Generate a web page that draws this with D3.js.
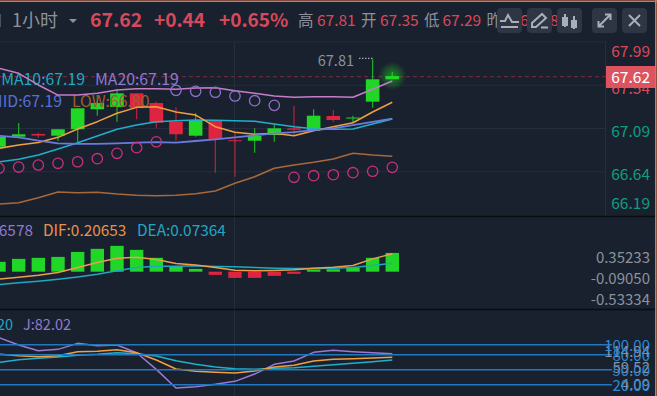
<!DOCTYPE html>
<html>
<head>
<meta charset="utf-8">
<script src="https://cdn.jsdelivr.net/npm/d3@7"></script>
<style>
  html, body { margin: 0; padding: 0; background: #1a212e; overflow: hidden; }
  svg { display: block; font-family: "Noto Sans CJK SC", "Noto Sans", sans-serif; }
</style>
</head>
<body>
<div id="chart"></div>
<script>
// candles
const opens  = [66.900,67.005,67.033,67.015,67.082,67.290,67.314,67.456,67.355,67.161,67.015,67.171,66.968,66.963,67.022,67.092,67.067,67.220,67.194,67.369,67.602];
const closes = [67.005,67.030,67.017,67.082,67.300,67.355,67.456,67.303,67.150,67.030,67.168,66.981,66.958,67.012,67.092,67.077,67.223,67.178,67.204,67.602,67.636];
const highs  = [67.033,67.147,67.046,67.082,67.300,67.438,67.498,67.456,67.369,67.310,67.248,67.171,67.043,67.092,67.137,67.324,67.290,67.282,67.223,67.810,67.681];
const lows   = [66.876,66.991,66.991,66.963,66.953,67.223,67.161,67.186,67.092,66.963,67.005,66.630,66.588,66.838,66.953,67.022,67.067,67.161,67.144,67.306,67.602];

// main indicators
const ma5 = [66.884,66.918,66.944,66.998,67.085,67.161,67.248,67.310,67.317,67.262,67.230,67.109,67.050,67.030,67.040,67.015,67.067,67.109,67.150,67.262,67.363];
const ma10 = [66.744,66.769,66.814,66.877,66.942,67.012,67.082,67.126,67.161,67.171,67.178,67.175,67.171,67.165,67.137,67.109,67.088,67.082,67.085,67.137,67.189];
const ma20 = [67.015,66.998,66.963,66.936,66.929,66.929,66.936,66.942,66.949,66.942,66.960,66.977,66.998,67.019,67.040,67.053,67.074,67.092,67.126,67.158,67.192];
const upper = [67.716,67.664,67.543,67.438,67.438,67.456,67.491,67.504,67.504,67.498,67.511,67.514,67.483,67.456,67.428,67.415,67.421,67.421,67.415,67.498,67.584];
const lower = [66.304,66.318,66.370,66.429,66.422,66.426,66.408,66.395,66.391,66.395,66.411,66.440,66.520,66.588,66.676,66.710,66.738,66.772,66.832,66.814,66.801];
const sar = [66.676,66.689,66.710,66.728,66.744,66.776,66.832,66.890,66.952,67.487,67.477,67.467,67.428,67.379,67.331,66.582,66.599,66.609,66.630,66.645,66.686];
const priceTicks = [67.99,67.54,67.09,66.64,66.19];

// macd
const macdBars = [.116,.151,.163,.174,.233,.269,.304,.257,.163,.065,.033,-.037,-.073,-.073,-.049,-.025,.025,.029,.049,.163,.221];
const dif = [-.088,-.065,-.041,-.010,.049,.108,.159,.171,.143,.096,.080,.049,.018,.010,.014,.022,.041,.053,.073,.151,.210];
const dea = [-.151,-.131,-.112,-.088,-.061,-.029,.010,.049,.065,.065,.069,.061,.057,.049,.041,.037,.037,.041,.049,.073,.100];
const macdTicks = [0.35233,-0.09050,-0.53334];

// kdj
const kLine = [81.3,78,76,78,86,86.7,90,84,69.3,51.3,46.7,44.7,43.3,47.3,55.3,58.7,67.3,70.7,72,73.3,74.7];
const dLine = [64.7,70,72.7,75.3,78.7,80.7,84,82,77.3,68,60.7,55.3,52,50.7,52.7,54,56.7,60,62.7,66,69.3];
const jLine = [114,99.3,88,90.7,102.7,98,99.3,84,50.7,13.3,16,20.7,26.7,41.3,60.7,67.3,84.7,88.7,86,84,82.02];
const kdjLevels = [100,80,50,20];
const kdjRangeTicks = [114.94,59.52,4.09];

const width = 657, height = 396;
const bg = "#1a212e", gridColor = "#252e3c";
const red = "#e0233f", green = "#20d626", labelRed = "#d9485a", labelGreen = "#0f9d82", grey = "#8b929e";

const svg = d3.select("#chart").append("svg").attr("width", width).attr("height", height);
svg.append("rect").attr("width", width).attr("height", height).attr("fill", bg);

const x = d3.scaleLinear().domain([0, 20]).range([-1, 392.3]);
const y = d3.scaleLinear().domain([66.19, 67.99]).range([215, 42]);
const macdY = d3.scaleLinear().domain([0, 0.2]).range([271.7, 254.7]);
const macdAxisY = d3.scaleLinear().domain([-0.53334, 0.35233]).range([300, 258]);
const kdjY = d3.scaleLinear().domain([20, 100]).range([384.7, 344.7]);
const kdjAxisY = d3.scaleLinear().domain([4.09, 114.94]).range([385, 352]);
const idx = d3.range(closes.length);

// grid
svg.selectAll(".grid-h").data(priceTicks.slice(0, 4)).join("line")
  .attr("x1", 0).attr("x2", 605).attr("y1", d => y(d)).attr("y2", d => y(d))
  .attr("stroke", gridColor).attr("stroke-width", 1);
svg.append("line").attr("x1", 234.5).attr("x2", 234.5).attr("y1", 42).attr("y2", height)
  .attr("stroke", gridColor);
svg.append("line").attr("x1", 605.5).attr("x2", 605.5).attr("y1", 42).attr("y2", 216)
  .attr("stroke", gridColor);

function legend(text, xPos, yPos, color, anchor, size) {
  svg.append("text").attr("x", xPos).attr("y", yPos).attr("fill", color)
    .attr("font-size", size || 15.4).attr("text-anchor", anchor || "start")
    .attr("dominant-baseline", "central").text(text);
}

// last price dashed
svg.append("line").attr("x1", 0).attr("x2", 606).attr("y1", 76.7).attr("y2", 76.7)
  .attr("stroke", "#7a2b40").attr("stroke-dasharray", "4,3");

// glow on the forming candle
const glow = svg.append("defs").append("radialGradient").attr("id", "glow");
glow.append("stop").attr("offset", "0%").attr("stop-color", "#20d626").attr("stop-opacity", 0.55);
glow.append("stop").attr("offset", "60%").attr("stop-color", "#20d626").attr("stop-opacity", 0.25);
glow.append("stop").attr("offset", "100%").attr("stop-color", "#20d626").attr("stop-opacity", 0);
svg.append("circle").attr("cx", x(20)).attr("cy", y(closes[20])).attr("r", 14).attr("fill", "url(#glow)");

// candles
const candleColor = i => closes[i] >= opens[i] ? green : red;
svg.selectAll(".wick").data(idx).join("line")
  .attr("x1", i => x(i)).attr("x2", i => x(i))
  .attr("y1", i => y(highs[i])).attr("y2", i => y(lows[i]))
  .attr("stroke", candleColor).attr("stroke-width", 1.2).attr("stroke-opacity", 0.8);
svg.selectAll(".body").data(idx).join("rect")
  .attr("x", i => x(i) - 6.8).attr("width", 13.6)
  .attr("y", i => y(Math.max(opens[i], closes[i])))
  .attr("height", i => Math.max(1, Math.abs(y(opens[i]) - y(closes[i]))))
  .attr("fill", candleColor);

// legends go over the candles, the bars show through them
legend("MA10:67.19", 85, 80, "#1fa8c4", "end", 15.8);
legend("MA20:67.19", 95, 80, "#8f7ad0", "start", 15.8);
legend("MID:67.19", 62, 102, "#5570d8", "end", 15.8);
legend("LOW:66.80", 72, 102, "#9c5f30", "start", 15.8);

// main lines
function drawLine(values, yScale, color, w) {
  svg.append("path").datum(values)
    .attr("fill", "none").attr("stroke", color).attr("stroke-width", w || 1.5)
    .attr("stroke-linejoin", "round")
    .attr("d", d3.line().x((d, i) => x(i)).y(d => yScale(d)));
}
drawLine(upper, y, "#c77cc8");
drawLine(lower, y, "#a8693a");
drawLine(ma10, y, "#1fb0cc");
drawLine(ma5, y, "#f0a040");
drawLine(ma20, y, "#6a7be0", 1.8);

// sar
svg.selectAll(".sar").data(idx).join("circle")
  .attr("cx", i => x(i)).attr("cy", i => y(sar[i])).attr("r", 5.2)
  .attr("fill", "none").attr("stroke-width", 1.3)
  .attr("stroke", i => sar[i] > closes[i] ? "#8f70d0" : "#c8317e");

// high marker
svg.append("text").attr("x", 354).attr("y", y(67.81) + 2).attr("fill", grey)
  .attr("font-size", 14.5).attr("text-anchor", "end").attr("dominant-baseline", "central").text("67.81");
svg.append("line").attr("x1", 359).attr("x2", x(19)).attr("y1", y(67.81) - 1).attr("y2", y(67.81) - 1)
  .attr("stroke", "#c8ccd4").attr("stroke-dasharray", "1.5,1.5");

// price axis
const priceOffset = { "67.99": 10, "66.19": -11 };
svg.selectAll(".price-tick").data(priceTicks).join("text")
  .attr("x", 650).attr("y", d => y(d) + (priceOffset[d] || 3))
  .attr("text-anchor", "end").attr("dominant-baseline", "central")
  .attr("font-size", 15.5).attr("fill", d => d > 67.18 ? labelRed : labelGreen)
  .text(d => d.toFixed(2));
svg.append("rect").attr("x", 606).attr("y", 66).attr("width", 49).attr("height", 22)
  .attr("fill", "#dc5460");
svg.append("text").attr("x", 650).attr("y", 78).attr("text-anchor", "end")
  .attr("dominant-baseline", "central").attr("font-size", 15.5).attr("fill", "#fff").text("67.62");

// panel separators
[216.5, 309.5].forEach(v => {
  svg.append("line").attr("x1", 0).attr("x2", 656).attr("y1", v).attr("y2", v)
    .attr("stroke", "#0a0c10").attr("stroke-width", 1.5);
});

// macd panel
legend("MACD:0.26578", 33, 231, "#8f7ad0", "end");
legend("DIF:0.20653", 43, 231, "#e8924a");
legend("DEA:0.07364", 137, 231, "#1fa8c4");
svg.selectAll(".macd-bar").data(idx).join("rect")
  .attr("x", i => x(i) - 6.7).attr("width", 13.4)
  .attr("y", i => Math.min(macdY(0), macdY(macdBars[i])))
  .attr("height", i => Math.abs(macdY(macdBars[i]) - macdY(0)))
  .attr("fill", i => macdBars[i] >= 0 ? green : red);
drawLine(dea, macdY, "#1fa8c4");
drawLine(dif, macdY, "#e8a04a");
svg.selectAll(".macd-tick").data(macdTicks).join("text")
  .attr("x", 650).attr("y", d => macdAxisY(d))
  .attr("text-anchor", "end").attr("dominant-baseline", "central")
  .attr("font-size", 15).attr("fill", grey).text(d => d.toFixed(5));

// kdj panel
legend("D:78.20", 13, 325, "#1fa8c4", "end", 14.5);
legend("J:82.02", 23, 325, "#8f7ad0", "start", 14.5);
drawLine(jLine, kdjY, "#9a78d8");
drawLine(dLine, kdjY, "#1fb0cc");
drawLine(kLine, kdjY, "#f0a040");
svg.selectAll(".kdj-level").data(kdjLevels).join("line")
  .attr("x1", 0).attr("x2", 612).attr("y1", d => kdjY(d)).attr("y2", d => kdjY(d))
  .attr("stroke", "#1f78c0").attr("stroke-width", 1.5);
svg.selectAll(".kdj-range").data(kdjRangeTicks).join("text")
  .attr("x", 650).attr("y", d => kdjAxisY(d)).attr("text-anchor", "end")
  .attr("dominant-baseline", "central").attr("font-size", 15).attr("fill", grey)
  .text(d => d.toFixed(2));
svg.selectAll(".kdj-tick").data(kdjLevels).join("text")
  .attr("x", 650).attr("y", d => kdjY(d) + 1).attr("text-anchor", "end")
  .attr("dominant-baseline", "central").attr("font-size", 15).attr("fill", "#2a8ad8")
  .text(d => d.toFixed(2));

// header
svg.append("rect").attr("x", 0).attr("y", 14).attr("width", 1).attr("height", 13).attr("fill", "#4a5260");
function head(text, xPos, color, size, weight) {
  svg.append("text").attr("x", xPos).attr("y", 20.5).attr("fill", color)
    .attr("font-size", size).attr("font-weight", weight || 400)
    .attr("dominant-baseline", "central").text(text);
}
head("1小时", 12, grey, 18);
svg.append("path").attr("d", d3.line()([[69, 19], [77, 19], [73, 23]])).attr("fill", grey);
head("67.62", 90, labelRed, 19.5, 700);
head("+0.44", 154, labelRed, 19, 700);
head("+0.65%", 219, labelRed, 19, 700);
head("高", 298, grey, 15.5);
head("67.81", 317, labelRed, 15.5);
head("开", 361, grey, 15.5);
head("67.35", 380, labelRed, 15.5);
head("低", 424, grey, 15.5);
head("67.29", 442.5, labelRed, 15.5);
head("昨收", 486.5, grey, 15.5);
head("67.18", 520, labelRed, 15.5);

// central baseline of this font sits a bit low
svg.selectAll("text").attr("dy", "-0.1em");

// toolbar
const buttonX = [497, 527, 557, 592, 622];
svg.selectAll(".btn").data(buttonX).join("rect")
  .attr("x", d => d).attr("y", 8).attr("width", 25).attr("height", 25).attr("rx", 4)
  .attr("fill", "#2e3644");
const iconColor = "#a9afba";
const icons = [
  "M3 13L8 13L11 7L15 14L22 14M4 19H21",
  "M5 19L5 15L15 6L19 10L9 19ZM14 19.5H21",
  "M8 6V19M17 8V21",
  "M7 18L18 7M13 6.5H18.5V12M12 18.5H6.5V13",
  "M7 7L18 18M18 7L7 18"
];
icons.forEach((d, i) => {
  svg.append("path").attr("transform", `translate(${buttonX[i]},8)`)
    .attr("d", d).attr("fill", "none").attr("stroke", iconColor).attr("stroke-width", 2);
});
svg.append("rect").attr("x", buttonX[2] + 5).attr("y", 17).attr("width", 6).attr("height", 9).attr("fill", iconColor);
svg.append("rect").attr("x", buttonX[2] + 14).attr("y", 20).attr("width", 6).attr("height", 8).attr("fill", iconColor);

// orange window frame
svg.append("line").attr("x1", 0).attr("x2", width).attr("y1", 1.2).attr("y2", 1.2)
  .attr("stroke", "#e8714a").attr("stroke-width", 1.4);
svg.append("line").attr("x1", 655.8).attr("x2", 655.8).attr("y1", 0).attr("y2", height)
  .attr("stroke", "#e8714a").attr("stroke-width", 1.6);
</script>
</body>
</html>
